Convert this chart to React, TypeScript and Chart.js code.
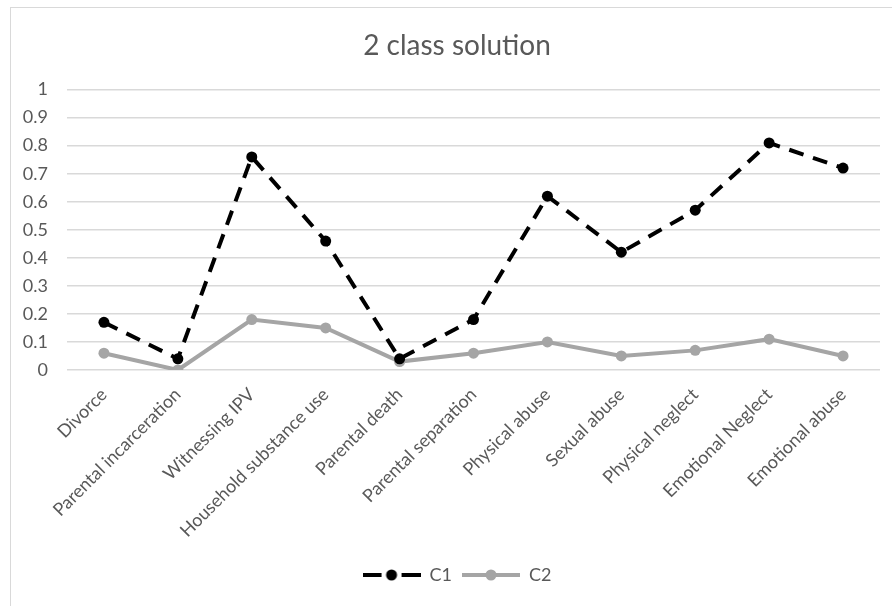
import React, { useEffect, useRef } from "react";
import { Chart, registerables } from "chart.js";

Chart.register(...registerables);

const categories = [
  "Divorce",
  "Parental incarceration",
  "Witnessing IPV",
  "Household substance use",
  "Parental death",
  "Parental separation",
  "Physical abuse",
  "Sexual abuse",
  "Physical neglect",
  "Emotional Neglect",
  "Emotional abuse",
];

const c1Values = [0.17, 0.04, 0.76, 0.46, 0.04, 0.18, 0.62, 0.42, 0.57, 0.81, 0.72];
const c2Values = [0.06, 0.0, 0.18, 0.15, 0.03, 0.06, 0.1, 0.05, 0.07, 0.11, 0.05];

const seriesNames = ["C1", "C2"];
const titleText = "2 class solution";

const FONT = "Lato, 'Open Sans', sans-serif";
const TEXT = "#595959";
const GRID = "#d9d9d9";
const C1_COLOR = "#000000";
const C2_COLOR = "#a5a5a5";

// Small legend swatch: a line with a marker in the middle
function makeSwatch(color: string, dashed: boolean): HTMLCanvasElement {
  const c = document.createElement("canvas");
  c.width = 58;
  c.height = 12;
  const ctx = c.getContext("2d")!;
  ctx.strokeStyle = color;
  ctx.fillStyle = color;
  ctx.lineWidth = 4;
  ctx.lineCap = "butt";
  ctx.beginPath();
  if (dashed) {
    ctx.moveTo(0, 6);
    ctx.lineTo(19, 6);
    ctx.moveTo(39, 6);
    ctx.lineTo(58, 6);
  } else {
    ctx.moveTo(0, 6);
    ctx.lineTo(58, 6);
  }
  ctx.stroke();
  ctx.beginPath();
  ctx.arc(29, 6, 5.5, 0, Math.PI * 2);
  ctx.fill();
  return c;
}

// Centre the title and legend on the whole chart box rather than the inner area
const shiftBlocks = {
  id: "shiftBlocks",
  afterLayout(chart: any) {
    const dx = 12;
    for (const b of [chart.titleBlock, chart.legend]) {
      if (b) {
        b.left += dx;
        b.right += dx;
      }
    }
  },
};

export default function App() {
  const ref = useRef<HTMLCanvasElement | null>(null);

  useEffect(() => {
    document.body.style.margin = "0";
    document.body.style.overflow = "hidden";
    if (!ref.current) return;
    const swatches = [makeSwatch(C1_COLOR, true), makeSwatch(C2_COLOR, false)];

    const chart = new Chart(ref.current, {
      type: "line",
      data: {
        labels: categories,
        datasets: [
          {
            label: seriesNames[0],
            data: c1Values,
            borderColor: C1_COLOR,
            backgroundColor: C1_COLOR,
            borderWidth: 4,
            borderDash: [15, 10],
            pointRadius: 5.5,
            pointBorderWidth: 0,
            pointBackgroundColor: C1_COLOR,
            tension: 0,
          },
          {
            label: seriesNames[1],
            data: c2Values,
            borderColor: C2_COLOR,
            backgroundColor: C2_COLOR,
            borderWidth: 4,
            pointRadius: 5.5,
            pointBorderWidth: 0,
            pointBackgroundColor: C2_COLOR,
            tension: 0,
          },
        ],
      },
      plugins: [shiftBlocks],
      options: {
        responsive: false,
        animation: false,
        layout: { padding: { left: 0, right: 22, top: 0, bottom: 12 } },
        plugins: {
          tooltip: { enabled: false },
          title: {
            display: true,
            text: titleText,
            color: TEXT,
            font: { family: FONT, size: 28, weight: "normal" },
            padding: { top: 22, bottom: 27 },
          },
          legend: {
            position: "bottom",
            labels: {
              color: TEXT,
              font: { family: FONT, size: 18 },
              padding: 10,
              usePointStyle: true,
              pointStyleWidth: 58,
              generateLabels: (ch: any) =>
                ch.data.datasets.map((ds: any, i: number) => ({
                  text: ds.label,
                  fillStyle: ds.borderColor,
                  strokeStyle: ds.borderColor,
                  fontColor: TEXT,
                  lineWidth: 0,
                  pointStyle: swatches[i],
                  hidden: false,
                  datasetIndex: i,
                })),
            },
          },
        },
        scales: {
          x: {
            offset: true,
            grid: { display: false, drawTicks: false },
            border: { display: false },
            ticks: {
              color: TEXT,
              font: { family: FONT, size: 18 },
              minRotation: 45,
              maxRotation: 45,
              padding: 14,
              autoSkip: false,
            },
            afterFit: (scale: any) => {
              scale.height = 186;
            },
          },
          y: {
            min: 0,
            max: 1,
            grid: { color: GRID, lineWidth: 1.5, drawTicks: false },
            border: { display: false },
            ticks: {
              stepSize: 0.1,
              color: TEXT,
              font: { family: FONT, size: 18 },
              padding: 19,
              callback: (v: any) => String(Number(Number(v).toFixed(1))),
            },
            afterFit: (scale: any) => {
              scale.width = 57;
            },
          },
        },
      },
    });
    return () => chart.destroy();
  }, []);

  return (
    <div style={{ position: "relative", width: 892, height: 606, background: "#fff" }}>
      <div
        style={{
          position: "absolute",
          left: 10,
          top: 7,
          width: 900,
          height: 620,
          border: "1px solid #d9d9d9",
          boxSizing: "border-box",
        }}
      />
      <canvas
        ref={ref}
        width={892}
        height={599}
        style={{ position: "absolute", left: 10, top: 7, width: 892, height: 599 }}
      />
    </div>
  );
}
